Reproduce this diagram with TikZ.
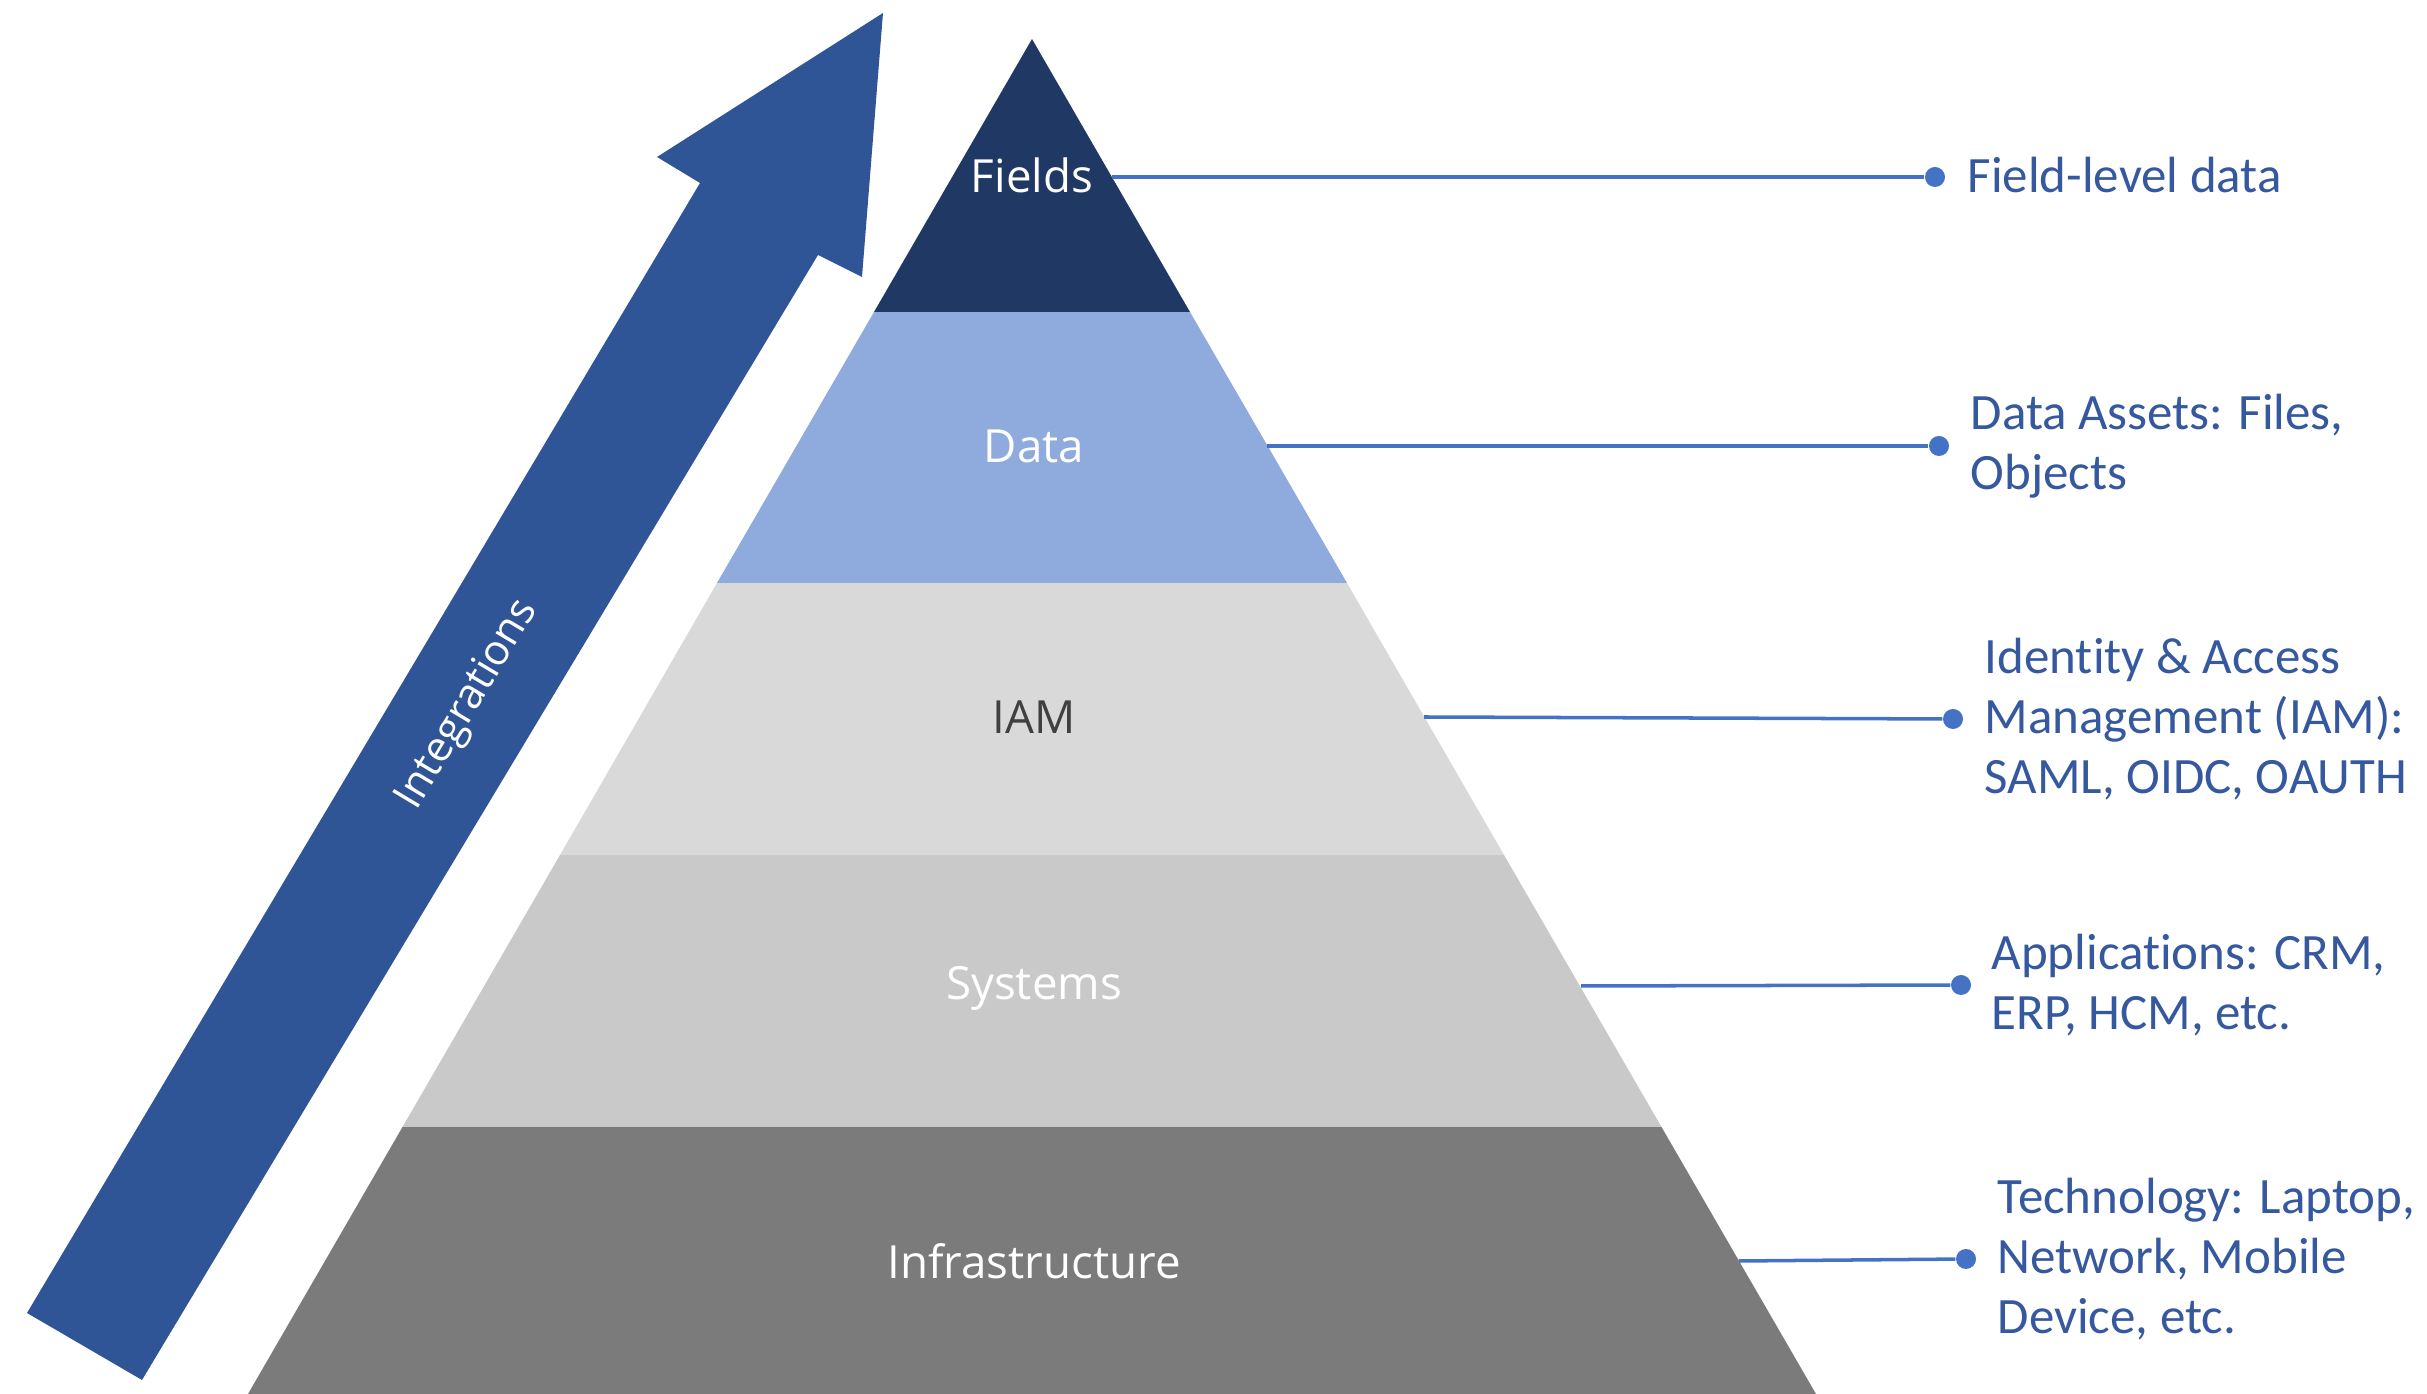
\documentclass[tikz,border=0pt]{standalone}
\usepackage{fontspec}
\setmainfont[Ligatures=NoCommon]{Carlito}
\newfontfamily\labelfont{Open Sans}
\definecolor{fieldsc}{HTML}{203864}
\definecolor{datac}{HTML}{8FAADC}
\definecolor{iamc}{HTML}{D9D9D9}
\definecolor{sysc}{HTML}{C9C9C9}
\definecolor{infrac}{HTML}{7B7B7B}
\definecolor{arrowc}{HTML}{2F5597}
\definecolor{linec}{HTML}{4472C4}
\definecolor{textc}{HTML}{35589F}
\definecolor{iamtext}{HTML}{404040}
\begin{document}
\begin{tikzpicture}[x=0.1mm,y=-0.1mm,
  layerlbl/.style={font=\labelfont\fontsize{13}{15}\selectfont, text=white, inner sep=0pt},
  dotnode/.style={circle, fill=linec, inner sep=0pt, minimum size=2mm},
  conn/.style={draw=linec, line width=1pt},
  desc/.style={font=\fontsize{14.5}{17}\selectfont, text=textc, align=left, anchor=west, inner sep=0pt}]
\useasboundingbox (0,0) rectangle (2427,1394);
% pyramid layers
\fill[infrac] (402.5,1127) -- (1661.5,1127) -- (1816,1394) -- (248,1394) -- cycle;
\fill[sysc] (560,855) -- (1504,855) -- (1661.5,1127) -- (402.5,1127) -- cycle;
\fill[iamc] (717,583) -- (1347,583) -- (1504,855) -- (560,855) -- cycle;
\fill[datac] (874,312) -- (1190,312) -- (1347,583) -- (717,583) -- cycle;
\fill[fieldsc] (1032,39) -- (1190,312) -- (874,312) -- cycle;
% arrow
\fill[arrowc] (27,1313) -- (700,183) -- (657,157) -- (883,13) -- (862,277) -- (818,255) -- (142,1380) -- cycle;
\node[layerlbl, rotate=59.1] (integ) at (468,705) {\fontsize{12}{14}\selectfont Integrations};
% layer labels
\node[layerlbl] (fields) at (1032,175) {Fields};
\node[layerlbl] (data) at (1034,446) {Data};
\node[layerlbl, text=iamtext] (iam) at (1034,717) {IAM};
\node[layerlbl] (systems) at (1034,988) {Systems};
\node[layerlbl] (infra) at (1034,1261) {Infrastructure};
% edge coordinates
\coordinate (e1) at (1112,177);
\coordinate (e2) at (1267,446);
\coordinate (e3) at (1424,717);
\coordinate (e4) at (1581,986);
\coordinate (e5) at (1739,1261);
% dots
\node[dotnode] (d1) at (1935,177) {};
\node[dotnode] (d2) at (1939,446) {};
\node[dotnode] (d3) at (1953,719) {};
\node[dotnode] (d4) at (1961,985) {};
\node[dotnode] (d5) at (1966,1259) {};
\draw[conn] (e1) -- (d1);
\draw[conn] (e2) -- (d2);
\draw[conn] (e3) -- (d3);
\draw[conn] (e4) -- (d4);
\draw[conn] (e5) -- (d5);
% descriptions
\node[desc] (t1) at (1967,175) {Field-level data};
\node[desc] (t2) at (1970,446) {Data Assets: Files,\\Objects};
\node[desc] (t3) at (1984,719) {Identity \& Access\\Management (IAM):\\SAML, OIDC, OAUTH};
\node[desc] (t4) at (1991,985) {Applications: CRM,\\ERP, HCM, etc.};
\node[desc] (t5) at (1997,1259) {Technology: Laptop,\\Network, Mobile\\Device, etc.};
\end{tikzpicture}
\end{document}
